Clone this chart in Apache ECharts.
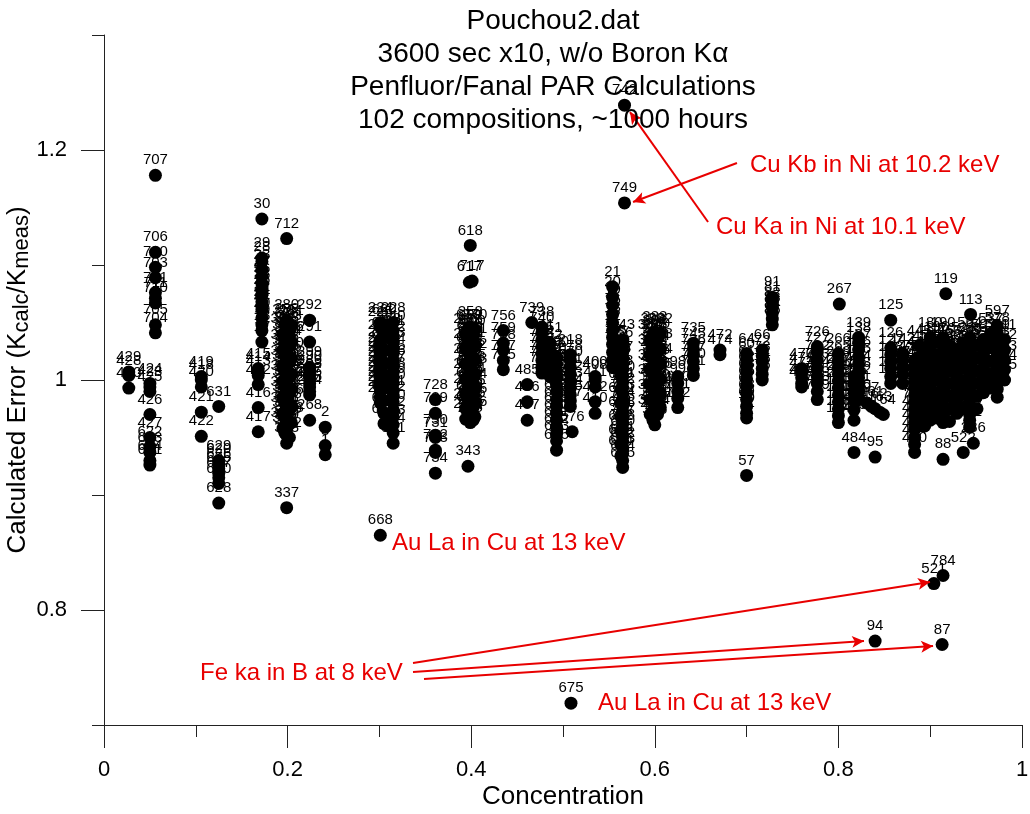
<!DOCTYPE html>
<html><head><meta charset="utf-8">
<script src="https://cdn.jsdelivr.net/npm/echarts@6/dist/echarts.min.js"></script>
<style>html,body{margin:0;padding:0;background:#fff}#c{width:1030px;height:814px}</style>
</head><body><div id="c"></div>
<script>
// Concentration of each column of points
const colX = [0.027, 0.056, 0.050, 0.106, 0.125, 0.172, 0.168, 0.199, 0.195, 0.204,
  0.224, 0.241, 0.301, 0.315, 0.310, 0.361, 0.399, 0.394, 0.404, 0.398,
  0.401, 0.3965, 0.435, 0.461, 0.466, 0.477, 0.486, 0.493, 0.508, 0.510,
  0.5087, 0.535, 0.554, 0.565, 0.567, 0.600, 0.595, 0.606, 0.625, 0.642,
  0.671, 0.700, 0.717, 0.728, 0.760, 0.777, 0.801, 0.800, 0.817, 0.822,
  0.831, 0.836, 0.840, 0.845, 0.849, 0.857, 0.870, 0.883, 0.900, 0.904,
  0.914, 0.913, 0.917, 0.929, 0.943, 0.944, 0.936, 0.947, 0.958, 0.973, 0.981,
  0.397, 0.402, 0.197, 0.202, 0.305, 0.598, 0.603, 0.563, 0.888, 0.894,
  0.907, 0.921, 0.936, 0.951, 0.966];
// Kcalc/Kmeas values for each column
const colY = [
  [1.007, 1.004, 0.993],
  [1.178, 1.111, 1.098, 1.089, 1.076, 1.071, 1.067, 1.048, 1.041],
  [0.997, 0.994, 0.990, 0.970, 0.950, 0.942, 0.937, 0.930, 0.926],
  [1.003, 1.000, 0.994, 0.972, 0.951],
  [0.977, 0.930, 0.927, 0.923, 0.919, 0.915, 0.910, 0.893],
  [1.140, 1.106, 1.103, 1.096, 1.090, 1.084, 1.078, 1.074, 1.068, 1.064, 1.061, 1.054, 1.048, 1.043, 1.033],
  [1.010, 1.007, 1.004, 0.996, 0.976, 0.955],
  [1.123, 1.052, 1.049, 1.045, 1.041, 1.037, 1.032, 1.029, 1.025, 1.022, 1.017, 1.014, 1.010, 1.006, 1.003,
   0.998, 0.995, 0.991, 0.987, 0.983, 0.979, 0.976, 0.972, 0.968, 0.964, 0.960, 0.957, 0.952, 0.945, 0.889],
  [1.040, 1.026, 1.012, 0.999, 0.985, 0.971, 0.958],
  [1.047, 1.033, 1.019, 1.005, 0.992, 0.978, 0.963],
  [1.052, 1.033, 1.011, 1.008, 1.004, 1.001, 0.997, 0.994, 0.990, 0.987, 0.965],
  [0.959, 0.943, 0.935],
  [1.050, 1.046, 1.035, 1.029, 1.024, 1.020, 1.016, 1.011, 1.007, 1.003, 0.998, 0.994, 0.990, 0.985, 0.980, 0.865],
  [1.050, 1.043, 1.038, 1.033, 1.028, 1.023, 1.017, 1.012, 1.007, 1.002, 0.997, 0.991, 0.986, 0.981, 0.974, 0.968, 0.961, 0.954, 0.945],
  [1.040, 1.000, 0.960],
  [0.983, 0.971, 0.952, 0.950, 0.939, 0.937, 0.919],
  [1.117, 1.046, 1.043, 1.039, 1.036, 1.032, 1.029, 1.025, 1.022, 1.018, 1.015, 1.011, 1.008, 1.004, 1.001,
   0.997, 0.994, 0.990, 0.987, 0.983, 0.980, 0.977, 0.973, 0.970, 0.966, 0.963],
  [1.040, 1.027, 1.014, 1.001, 0.988, 0.975, 0.966],
  [1.044, 1.031, 1.018, 1.005, 0.992, 0.979, 0.968],
  [1.085],
  [1.086],
  [0.925],
  [1.043, 1.032, 1.026, 1.017, 1.009],
  [0.996, 0.981, 0.965],
  [1.050],
  [1.046, 1.041, 1.035, 1.029, 1.023, 1.017, 1.011, 1.006],
  [1.032, 1.026, 1.020, 1.014, 1.008, 1.003],
  [1.020, 1.014, 1.008, 1.002, 0.996, 0.990, 0.983, 0.977, 0.971, 0.965, 0.959, 0.953, 0.947, 0.939],
  [1.022, 1.017, 1.011, 1.005, 0.999, 0.993, 0.987, 0.982, 0.977],
  [0.955],
  [0.719],
  [1.003, 1.000, 0.994, 0.981, 0.971],
  [1.081, 1.072, 1.065, 1.057, 1.050, 1.043, 1.037, 1.031, 1.024, 1.017, 1.011],
  [1.035, 1.030, 1.024, 1.019, 1.014, 1.009, 1.003, 0.998, 0.993, 0.988, 0.983, 0.977, 0.972, 0.967, 0.962,
   0.957, 0.951, 0.946, 0.941, 0.936, 0.930, 0.924],
  [1.239, 1.154],
  [1.042, 1.038, 1.035, 1.031, 1.028, 1.024, 1.021, 1.017, 1.014, 1.010, 1.007, 1.003, 1.000, 0.997, 0.993,
   0.990, 0.986, 0.983, 0.979, 0.976, 0.972, 0.969, 0.961],
  [1.035, 1.022, 1.009, 0.996, 0.983, 0.970],
  [1.040, 1.027, 1.014, 1.001, 0.988, 0.976],
  [1.003, 0.997, 0.990, 0.984, 0.976],
  [1.032, 1.027, 1.022, 1.016, 1.010, 1.004],
  [1.026, 1.022],
  [1.023, 1.018, 1.012, 1.007, 1.001, 0.995, 0.989, 0.983, 0.977, 0.971, 0.967, 0.917],
  [1.026, 1.021, 1.016, 1.010, 1.005, 1.000],
  [1.072, 1.068, 1.063, 1.058, 1.053, 1.048],
  [1.010, 1.006, 1.002, 0.997, 0.994],
  [1.029, 1.024, 1.017, 1.010, 1.003, 0.997, 0.990, 0.983],
  [1.066],
  [1.023, 1.017, 1.011, 1.005, 0.999, 0.993, 0.987, 0.981, 0.975, 0.969, 0.963],
  [1.003, 0.996, 0.989, 0.982, 0.974, 0.965, 0.937],
  [1.037, 1.032, 1.026, 1.020, 1.014, 1.008, 1.002, 0.996, 0.990, 0.983],
  [0.980],
  [0.977],
  [0.975, 0.933, 0.773],
  [0.972],
  [0.970],
  [1.052, 1.028, 1.022, 1.016, 1.010, 1.003, 0.997],
  [1.023, 1.017, 1.011, 1.005, 0.997],
  [1.017, 1.011, 1.005, 0.999, 0.993, 0.987, 0.981, 0.975, 0.969, 0.963, 0.957, 0.950, 0.944, 0.937],
  [1.037, 1.031, 1.025, 1.019, 1.013, 1.007, 1.001, 0.995, 0.989, 0.983, 0.977, 0.970, 0.965],
  [0.823],
  [1.037, 1.031, 1.025, 1.019, 1.013, 1.007, 1.001, 0.995, 0.989, 0.983, 0.977, 0.970, 0.963, 0.931, 0.830],
  [0.770],
  [1.075],
  [1.026, 1.020, 1.014, 1.008, 1.002, 0.996, 0.990, 0.983, 0.977, 0.971],
  [1.037, 1.031, 1.025, 1.019, 1.013, 1.007, 1.001, 0.995, 0.989, 0.983, 0.977, 0.970, 0.965, 0.959],
  [1.057],
  [0.937],
  [0.945],
  [1.035, 1.029, 1.023, 1.017, 1.010, 1.004, 0.998, 0.992, 0.989],
  [1.047, 1.041, 1.035, 1.029, 1.023, 1.017, 1.010, 1.004, 0.998, 0.992, 0.985],
  [1.035, 1.026, 1.017, 1.009, 1.000],
  [1.044, 1.034, 1.024, 1.013, 1.003, 0.993, 0.982, 0.972],
  [1.038, 1.028, 1.017, 1.007, 0.997, 0.986, 0.976, 0.965],
  [1.048, 1.035, 1.021, 1.008, 0.994, 0.981, 0.967, 0.954],
  [1.043, 1.030, 1.016, 1.003, 0.989, 0.975, 0.962, 0.950],
  [1.048, 1.037, 1.026, 1.015, 1.004, 0.993, 0.982, 0.971, 0.962],
  [1.040, 1.029, 1.018, 1.006, 0.995, 0.984, 0.973, 0.965],
  [1.036, 1.025, 1.013, 1.002, 0.991, 0.980, 0.970],
  [1.028, 1.016, 1.004, 0.992, 0.980, 0.968, 0.956, 0.944, 0.934],
  [1.030, 1.020, 1.010, 1.000, 0.990, 0.980, 0.968],
  [1.025, 1.014, 1.004, 0.994, 0.984, 0.972, 0.960],
  [1.033, 1.022, 1.011, 1.000, 0.989, 0.978, 0.967],
  [1.030, 1.019, 1.008, 0.997, 0.986, 0.975, 0.964],
  [1.032, 1.021, 1.010, 0.999, 0.988, 0.976],
  [1.030, 1.019, 1.008, 0.997, 0.986, 0.975],
  [1.040, 1.028, 1.016, 1.004, 0.993]
];
// Sample number labels for each point
const colLab = [
  [429, 428, 430],
  [707, 706, 700, 703, 701, 711, 710, 705, 704],
  [424, 423, 425, 426, 427, 622, 623, 624, 621],
  [419, 418, 420, 421, 422],
  [631, 629, 620, 626, 625, 627, 630, 628],
  [30, 29, 28, 23, 27, 56, 26, 25, 22, 24, 21, 20, 19, 18, 17],
  [415, 414, 413, 412, 416, 417],
  [712, 280, 282, 318, 303, 305, 307, 309, 311, 313, 315, 317, 319, 321, 323,
   325, 327, 329, 331, 333, 335, 339, 341, 342, 345, 347, 349, 351, 353, 337],
  [302, 304, 306, 308, 310, 312, 314],
  [281, 316, 320, 322, 324, 326, 328],
  [292, 291, 299, 290, 289, 298, 287, 296, 295, 294, 268],
  [2, 3, 1],
  [224, 225, 226, 227, 229, 230, 231, 232, 233, 234, 235, 236, 237, 238, 239, 668],
  [228, 240, 241, 242, 243, 244, 245, 246, 247, 248, 249, 250, 251, 252, 640, 642, 643, 644, 641],
  [253, 254, 645],
  [728, 729, 730, 731, 732, 733, 734],
  [618, 258, 257, 255, 256, 259, 260, 261, 262, 263, 264, 201, 202, 203, 204,
   205, 206, 207, 208, 209, 210, 211, 212, 213, 214, 215],
  [216, 217, 219, 220, 221, 222, 223],
  [270, 271, 272, 273, 274, 275, 276],
  [617],
  [717],
  [343],
  [756, 759, 758, 757, 755],
  [485, 486, 487],
  [739],
  [738, 740, 741, 744, 746, 747, 748, 750],
  [751, 752, 753, 754, 480, 481],
  [690, 691, 692, 693, 694, 696, 697, 698, 699, 680, 681, 682, 683, 695],
  [218, 278, 570, 571, 572, 573, 574, 575, 577],
  [576],
  [675],
  [400, 408, 411, 412, 410],
  [21, 20, 19, 16, 13, 12, 11, 10, 9, 8, 7],
  [743, 5, 6, 14, 15, 17, 18, 760, 761, 762, 763, 764, 765, 766, 767,
   768, 650, 651, 652, 653, 654, 655],
  [742, 749],
  [288, 284, 285, 286, 300, 301, 369, 370, 371, 372, 373, 374, 375, 376, 377,
   378, 379, 380, 381, 382, 383, 384, 385],
  [386, 387, 388, 389, 390, 391],
  [392, 393, 394, 395, 396, 397],
  [98, 99, 100, 101, 102],
  [735, 745, 736, 737, 720, 721],
  [472, 474],
  [64, 60, 61, 62, 63, 65, 67, 68, 69, 70, 71, 57],
  [66, 72, 73, 74, 75, 76],
  [91, 81, 82, 83, 84, 85],
  [470, 471, 473, 475, 476],
  [726, 727, 722, 723, 724, 725, 718, 719],
  [267],
  [266, 265, 269, 277, 279, 293, 150, 151, 152, 153, 154],
  [155, 156, 157, 158, 159, 160, 484],
  [139, 138, 137, 136, 135, 134, 133, 132, 131, 130],
  [297],
  [161],
  [162, 95, 94],
  [163],
  [164],
  [125, 126, 127, 128, 129, 140, 141],
  [142, 143, 144, 145, 146],
  [770, 771, 772, 773, 774, 775, 776, 777, 440, 441, 442, 443, 444, 450],
  [180, 181, 182, 183, 184, 185, 186, 187, 188, 189, 191, 192, 193],
  [521],
  [190, 170, 171, 172, 173, 174, 175, 176, 177, 178, 179, 194, 195, 88, 784],
  [87],
  [119],
  [560, 561, 562, 563, 565, 566, 567, 568, 569, 530],
  [564, 580, 581, 582, 583, 584, 585, 586, 587, 588, 589, 590, 591, 592],
  [113],
  [522],
  [236],
  [593, 594, 595, 596, 598, 599, 500, 501, 502],
  [597, 578, 579, 503, 504, 505, 506, 507, 508, 509, 510],
  [511, 512, 513, 514, 515],
  [610, 611, 612, 613, 614, 615, 616, 619],
  [600, 601, 602, 603, 604, 605, 606, 607],
  [355, 356, 357, 358, 359, 360, 361, 362],
  [363, 364, 365, 366, 367, 368, 330, 332],
  [660, 661, 662, 663, 664, 665, 666, 667, 669],
  [398, 399, 401, 402, 403, 404, 405, 406],
  [340, 344, 346, 348, 350, 352, 354],
  [656, 657, 658, 659, 670, 671, 672, 673, 674],
  [445, 446, 447, 448, 449, 451, 452],
  [453, 454, 455, 456, 457, 458, 459],
  [196, 197, 198, 199, 460, 461, 462],
  [463, 464, 465, 466, 467, 468, 469],
  [523, 524, 525, 526, 527, 528],
  [531, 532, 533, 534, 535, 536],
  [537, 538, 539, 540, 541]
];
const xTicks = [0, 0.2, 0.4, 0.6, 0.8, 1];
const yTicks = [0.8, 1, 1.2];
const titleLines = ['Pouchou2.dat', '3600 sec x10, w/o Boron K\u03b1', 'Penfluor/Fanal PAR Calculations', '102 compositions, ~1000 hours'];
// Red annotations (anchored in data space)
const noteText = ['Cu Kb in Ni at 10.2 keV', 'Cu Ka in Ni at 10.1 keV', 'Au La in Cu at 13 keV', 'Fe ka in B at 8 keV', 'Au La in Cu at 13 keV'];
const noteAt = [[0.7037, 1.187], [0.6667, 1.133], [0.3137, 0.858], [0.1046, 0.745], [0.538, 0.719]];
const arrowFrom = [[0.658, 1.1374], [0.6895, 1.1887], [0.3366, 0.7539], [0.3366, 0.7461], [0.3486, 0.740]];
const arrowTo = [[0.573, 1.233], [0.5763, 1.1548], [0.8998, 0.8243], [0.8279, 0.773], [0.9031, 0.7687]];

const FONT = "'Liberation Sans', Arial, sans-serif";
const RED = '#e80000';

const points = [];
colX.forEach((x, i) => {
  colY[i].forEach((y, j) => points.push([x, y, colLab[i][j]]));
});

const chart = echarts.init(document.getElementById('c'));
chart.setOption({
  animation: false,
  backgroundColor: '#fff',
  title: {
    text: titleLines.join('\n'),
    left: 548, top: 0, textAlign: 'center',
    textStyle: { fontFamily: FONT, fontSize: 28, fontWeight: 'normal', color: '#000', lineHeight: 33 }
  },
  grid: { left: 104, right: 8, top: 35, bottom: 89, containLabel: false, outerBoundsMode: 'none' },
  xAxis: {
    type: 'value', min: 0, max: 1, interval: 0.2,
    name: 'Concentration', nameLocation: 'middle', nameGap: 59, nameMoveOverlap: false,
    nameTextStyle: { fontFamily: FONT, fontSize: 26, color: '#000' },
    axisLine: { show: true, lineStyle: { color: '#222', width: 1 } },
    axisTick: { show: true, length: 23, lineStyle: { color: '#222' } },
    minorTick: { show: true, splitNumber: 2, length: 12, lineStyle: { color: '#222' } },
    splitLine: { show: false },
    axisLabel: {
      margin: 34, fontFamily: FONT, fontSize: 22, color: '#000',
      formatter: v => { const t = xTicks.find(k => Math.abs(k - v) < 1e-6); return t === undefined ? '' : String(t); }
    }
  },
  yAxis: [{
    type: 'value', min: 0.7, max: 1.3, interval: 0.1,
    name: 'Calculated Error (K{s|calc}/K{s|meas})', nameLocation: 'middle', nameGap: 73, nameRotate: 90,
    nameMoveOverlap: false,
    nameTextStyle: { fontFamily: FONT, fontSize: 26, color: '#000',
      rich: { s: { fontFamily: FONT, fontSize: 22, color: '#000', padding: [0, 0, -8, 0] } } },
    axisLine: { show: true, lineStyle: { color: '#222', width: 1 } },
    axisTick: { show: false },
    splitLine: { show: false },
    axisLabel: {
      margin: 37, fontFamily: FONT, fontSize: 22, color: '#000',
      formatter: v => { const t = yTicks.find(k => Math.abs(k - v) < 1e-6); return t === undefined ? '' : String(t); }
    }
  }, {
    type: 'value', min: 0.7, max: 1.3, interval: 0.2, position: 'left', offset: 0,
    axisLine: { show: false },
    axisTick: { show: true, length: 12, lineStyle: { color: '#222' } },
    minorTick: { show: true, splitNumber: 2, length: 23, lineStyle: { color: '#222' } },
    splitLine: { show: false },
    axisLabel: { show: false }
  }],
  series: [{
    type: 'scatter', yAxisIndex: 0,
    data: points,
    symbol: 'circle', symbolSize: 13,
    itemStyle: { color: '#000', opacity: 1 },
    label: {
      show: true, position: 'top', distance: 1,
      formatter: p => String(p.value[2]),
      fontFamily: FONT, fontSize: 15, color: '#000'
    },
    labelLayout: { hideOverlap: false },
    emphasis: { disabled: true },
    silent: true
  }, {
    type: 'scatter', yAxisIndex: 0, data: [], silent: true,
    markPoint: {
      symbol: 'circle', symbolSize: 0, silent: true,
      label: { show: true, position: 'right', distance: 0, formatter: p => p.name,
        fontFamily: FONT, fontSize: 24, color: RED },
      data: noteText.map((t, i) => ({ name: t, coord: noteAt[i] }))
    },
    markLine: {
      silent: true, symbol: ['none', 'arrow'], symbolSize: [9, 12],
      lineStyle: { color: RED, width: 2, type: 'solid' },
      label: { show: false },
      data: arrowFrom.map((a, i) => [{ coord: a }, { coord: arrowTo[i] }])
    }
  }]
});
</script></body></html>
